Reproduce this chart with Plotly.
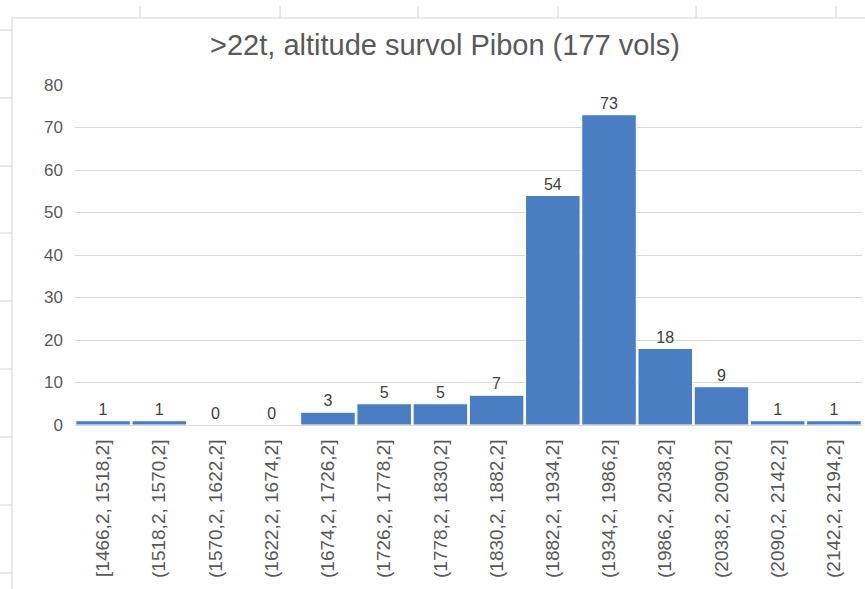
import plotly.graph_objects as go

categories = ["[1466,2, 1518,2]", "(1518,2, 1570,2]", "(1570,2, 1622,2]", "(1622,2, 1674,2]",
              "(1674,2, 1726,2]", "(1726,2, 1778,2]", "(1778,2, 1830,2]", "(1830,2, 1882,2]",
              "(1882,2, 1934,2]", "(1934,2, 1986,2]", "(1986,2, 2038,2]", "(2038,2, 2090,2]",
              "(2090,2, 2142,2]", "(2142,2, 2194,2]"]
counts = [1, 1, 0, 0, 3, 5, 5, 7, 54, 73, 18, 9, 1, 1]
y_ticks = [0, 10, 20, 30, 40, 50, 60, 70, 80]

W, H = 865, 589
L, R, T, B = 75, 3, 85, 164
pw, ph = W - L - R, H - T - B

def px(x):
    return (x - L) / pw

def py(y):
    return (H - B - y) / ph

fig = go.Figure()
fig.add_trace(go.Bar(
    x=categories, y=counts,
    marker=dict(color="#4A7DC1", line=dict(color="white", width=1)),
    text=[str(c) for c in counts], textposition="outside", cliponaxis=False,
    textfont=dict(family="Liberation Sans", size=16, color="#404040"),
))

shapes = []
grey = "#d4d4d4"
# chart area border
shapes.append(dict(type="line", xref="paper", yref="paper", x0=px(12), x1=px(W + 5), y0=py(18), y1=py(18),
                   line=dict(color=grey, width=1)))
shapes.append(dict(type="line", xref="paper", yref="paper", x0=px(12), x1=px(12), y0=py(18), y1=py(H + 5),
                   line=dict(color=grey, width=1)))
# spreadsheet cell marks outside the chart
for xx in [140, 280, 418, 558, 696, 836]:
    shapes.append(dict(type="line", xref="paper", yref="paper", x0=px(xx), x1=px(xx), y0=py(6), y1=py(18),
                       line=dict(color=grey, width=1)))
for yy in [30, 98, 166, 233, 301, 369, 437, 505, 573]:
    shapes.append(dict(type="line", xref="paper", yref="paper", x0=px(0), x1=px(12), y0=py(yy), y1=py(yy),
                       line=dict(color=grey, width=1)))

fig.update_layout(
    width=W, height=H,
    margin=dict(l=L, r=R, t=T, b=B),
    paper_bgcolor="white", plot_bgcolor="white",
    bargap=0.03,
    showlegend=False,
    title=dict(text=">22t, altitude survol Pibon (177 vols)", x=px(445), xref="paper", y=1 - 45 / H,
               yanchor="middle", xanchor="center",
               font=dict(family="Liberation Sans", size=29, color="#595959")),
    font=dict(family="Liberation Sans", color="#595959"),
    shapes=shapes,
)
fig.update_yaxes(range=[0, 80], tickvals=y_ticks, showgrid=True, gridcolor="#d9d9d9", gridwidth=1,
                 zeroline=False, showline=False, ticks="", tickfont=dict(size=17, color="#595959"),
                 ticklabelstandoff=11)
fig.update_xaxes(tickangle=-90, showline=True, linecolor="#d9d9d9", linewidth=1, ticks="",
                 tickfont=dict(size=19, color="#595959"), ticklabelstandoff=6)

fig.write_html("out.html", config={"displayModeBar": False},
               post_script="document.body.style.margin='0';")
